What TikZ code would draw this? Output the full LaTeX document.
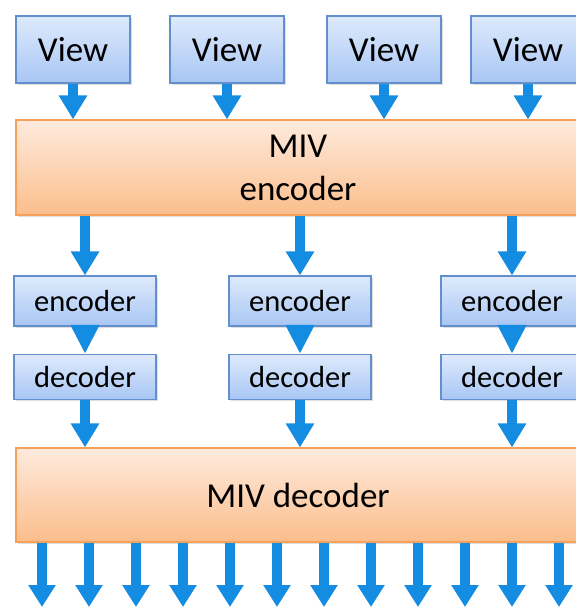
\documentclass[tikz,border=0pt]{standalone}
\usepackage{fontspec}
\setmainfont{Carlito}
\usetikzlibrary{arrows.meta,shadows}
\definecolor{viewtop}{RGB}{222,234,252}
\definecolor{viewbot}{RGB}{168,198,244}
\definecolor{viewline}{RGB}{100,143,205}
\definecolor{mivtop}{RGB}{254,234,221}
\definecolor{mivbot}{RGB}{251,190,140}
\definecolor{mivline}{RGB}{246,160,90}
\definecolor{arrowblue}{RGB}{20,140,225}

\begin{document}
\begin{tikzpicture}[x=0.5pt,y=-0.5pt,
  box_shadow/.style={drop shadow={shadow xshift=0.8pt,shadow yshift=-0.8pt,opacity=0.25}},
  view_node/.style={draw=viewline,line width=0.6pt,top color=viewtop,bottom color=viewbot,box_shadow,inner sep=0pt},
  miv_node/.style={draw=mivline,line width=0.6pt,top color=mivtop,bottom color=mivbot,box_shadow,inner sep=0pt,minimum width=282pt,align=center,font=\fontsize{17.5}{21.5}\selectfont},
  big_arrow/.style={draw=arrowblue,line width=5pt,-{Triangle[length=12pt,width=13.5pt]}}]
    \useasboundingbox (0,0) rectangle (575,607);
    % views
    \node[view_node,minimum width=57pt,minimum height=33.5pt,font=\fontsize{17.5}{21}\selectfont] (v1) at (73,49.5) {View};
    \node[view_node,minimum width=57pt,minimum height=33.5pt,font=\fontsize{17.5}{21}\selectfont] (v2) at (227,49.5) {View};
    \node[view_node,minimum width=57pt,minimum height=33.5pt,font=\fontsize{17.5}{21}\selectfont] (v3) at (384,49.5) {View};
    \node[view_node,minimum width=57pt,minimum height=33.5pt,font=\fontsize{17.5}{21}\selectfont] (v4) at (528,49.5) {View};
    \node[miv_node,minimum height=47.5pt] (enc) at (298,167.5) {MIV\\encoder};
    % per column encoder / decoder
    \node[view_node,minimum width=71pt,minimum height=25pt,font=\fontsize{15.25}{18}\selectfont] (e1) at (85,301) {encoder};
    \node[view_node,minimum width=71pt,minimum height=25pt,font=\fontsize{15.25}{18}\selectfont] (e2) at (300,301) {encoder};
    \node[view_node,minimum width=71pt,minimum height=25pt,font=\fontsize{15.25}{18}\selectfont] (e3) at (512,301) {encoder};
    \node[view_node,minimum width=71pt,minimum height=22.5pt,font=\fontsize{15.25}{18}\selectfont] (d1) at (85,377) {decoder};
    \node[view_node,minimum width=71pt,minimum height=22.5pt,font=\fontsize{15.25}{18}\selectfont] (d2) at (300,377) {decoder};
    \node[view_node,minimum width=71pt,minimum height=22.5pt,font=\fontsize{15.25}{18}\selectfont] (d3) at (512,377) {decoder};
    \node[miv_node,minimum height=47pt] (dec) at (298,495) {MIV decoder};
    \draw[big_arrow] (v1.south) -- (v1.south |- enc.north);
    \draw[big_arrow] (v2.south) -- (v2.south |- enc.north);
    \draw[big_arrow] (v3.south) -- (v3.south |- enc.north);
    \draw[big_arrow] (v4.south) -- (v4.south |- enc.north);
    \draw[big_arrow] (e1.north |- enc.south) -- (e1.north);
    \draw[big_arrow] (e2.north |- enc.south) -- (e2.north);
    \draw[big_arrow] (e3.north |- enc.south) -- (e3.north);
    \draw[big_arrow,-{Triangle[length=14.5pt,width=13.5pt]}] (e1.south) -- (d1.north);
    \draw[big_arrow,-{Triangle[length=14.5pt,width=13.5pt]}] (e2.south) -- (d2.north);
    \draw[big_arrow,-{Triangle[length=14.5pt,width=13.5pt]}] (e3.south) -- (d3.north);
    \draw[big_arrow] (d1.south) -- (d1.south |- dec.north);
    \draw[big_arrow] (d2.south) -- (d2.south |- dec.north);
    \draw[big_arrow] (d3.south) -- (d3.south |- dec.north);
    % outputs
    \foreach \i in {0,...,11} {
        \coordinate (o\i) at (42+47*\i,607);
        \draw[big_arrow,-{Triangle[length=11pt,width=13pt]}] (dec.south -| o\i) -- (o\i);
    }
\end{tikzpicture}
\end{document}
